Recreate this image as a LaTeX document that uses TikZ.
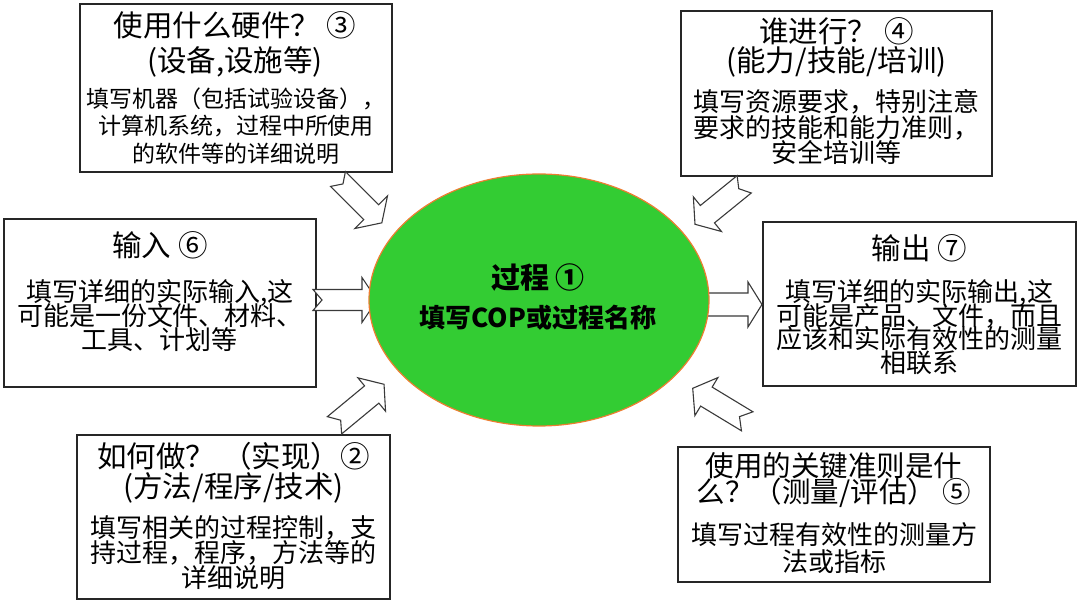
\documentclass[tikz,border=0pt]{standalone}
\usepackage{fontspec}
\newfontfamily\cjk{Noto Sans CJK SC}
\usetikzlibrary{shapes.geometric,fit}
\definecolor{procgreen}{HTML}{33CC33}
\definecolor{procorange}{HTML}{ED7D31}
\definecolor{linegray}{HTML}{262626}
\definecolor{arrowgray}{HTML}{3A3A3A}
\newcommand\tightlines{\lineskiplimit=-100pt\lineskip=0pt\relax}
% block arrow: #1 tail coordinate, #2 angle, #3 length, #4 shaft half width,
% #5 head half width, #6 head length, #7 notch depth
\newcommand\blockarrow[7]{%
  \begin{scope}[shift={#1},rotate=#2]
    \draw[arrowline] (0,#4) -- ({#3-#6},#4) -- ({#3-#6},#5) -- (#3,0)
      -- ({#3-#6},-#5) -- ({#3-#6},-#4) -- (0,-#4) -- (#7,0) -- cycle;
  \end{scope}}
\begin{document}
\begin{tikzpicture}[x=1pt,y=-1pt,
  infobox/.style={draw=linegray,line width=1.2pt,fill=white,inner sep=0pt,rectangle},
  arrowline/.style={draw=arrowgray,line width=1.1pt,fill=white,line join=miter},
  titletxt/.style={align=center,inner sep=0pt,text=black,font=\cjk\fontsize{29.5}{#1}\selectfont\tightlines},
  bodytxt/.style 2 args={align=center,inner sep=0pt,text=black,font=\cjk\fontsize{#1}{#2}\selectfont\tightlines},
  proc/.style={ellipse,draw=procorange,line width=1.2pt,fill=procgreen,inner sep=0pt,
    minimum width=340pt,minimum height=252pt},
  proctxt/.style={inner sep=0pt,text=black,font=\cjk\bfseries\fontsize{#1}{#1}\selectfont}]
\useasboundingbox (0,0) rectangle (1080,609);

% boxes
\node[infobox,fit={(80,4) (392,172)}] (b3) {};
\node[infobox,fit={(681,11) (992,176)}] (b4) {};
\node[infobox,fit={(4,219) (316,387)}] (b6) {};
\node[infobox,fit={(763,222) (1076,386)}] (b7) {};
\node[infobox,fit={(77,435) (390,599)}] (b2) {};
\node[infobox,fit={(678,447) (990,582)}] (b5) {};

% box texts
\node[titletxt=35] (t3) at (235,44.5) {使用什么硬件？ ③\\(设备,设施等)};
\node[bodytxt={23}{27.5}] (d3) at (236,125.7) {填写机器（包括试验设备），\\计算机系统，过程中所使用\\的软件等的详细说明};

\node[titletxt=29] (t4) at (836.5,47.5) {谁进行？ ④\\(能力/技能/培训)};
\node[bodytxt={26}{25.5}] (d4) at (836.5,127.3) {填写资源要求，特别注意\\要求的技能和能力准则，\\安全培训等};

\node[titletxt=28] (t6) at (160,245) {输入 ⑥};
\node[bodytxt={26}{24}] (d6) at (160,315.7) {填写详细的实际输入,这\\可能是一份文件、材料、\\工具、计划等};

\node[titletxt=28] (t7) at (919.5,248) {输出 ⑦};
\node[bodytxt={26}{23.7}] (d7) at (919.5,327) {填写详细的实际输出,这\\可能是产品、文件，而且\\应该和实际有效性的测量\\相联系};

\node[titletxt=30] (t2) at (233.5,473) {如何做？ （实现）②\\(方法/程序/技术)};
\node[bodytxt={26}{25}] (d2) at (233.5,553) {填写相关的过程控制，支\\持过程，程序，方法等的\\详细说明};

\node[bodytxt={28.5}{26}] (t5) at (834,480) {使用的关键准则是什\\么？（测量/评估） ⑤};
\node[bodytxt={26}{27}] (d5) at (834,548.5) {填写过程有效性的测量方\\法或指标};

% arrow tails
\coordinate (a3) at (338,179);
\coordinate (a4) at (744.2,184.3);
\coordinate (a2) at (334.5,425.3);
\coordinate (a5) at (747.2,421.3);
\coordinate (a6) at (313,300);
\coordinate (a7) at (690,304.5);

\blockarrow{(a3)}{-45}{62}{10.5}{23}{15}{7}
\blockarrow{(a4)}{-140.9}{63.4}{11.2}{22.3}{16}{7}
\blockarrow{(a2)}{39.6}{64.3}{11.2}{21.7}{16}{8}
\blockarrow{(a5)}{148.8}{63.7}{11.1}{22.2}{16}{9}
\blockarrow{(a6)}{0}{64}{10.5}{22.5}{15}{9}
\blockarrow{(a7)}{0}{72}{11.5}{22.5}{14}{0}

% process ellipse
\node[proc] (p) at (539,300) {};
\node[proctxt=29] (p1) at (538,278) {过程 ①};
\node[proctxt=26] (p2) at (538,318) {填写COP或过程名称};
\end{tikzpicture}
\end{document}
